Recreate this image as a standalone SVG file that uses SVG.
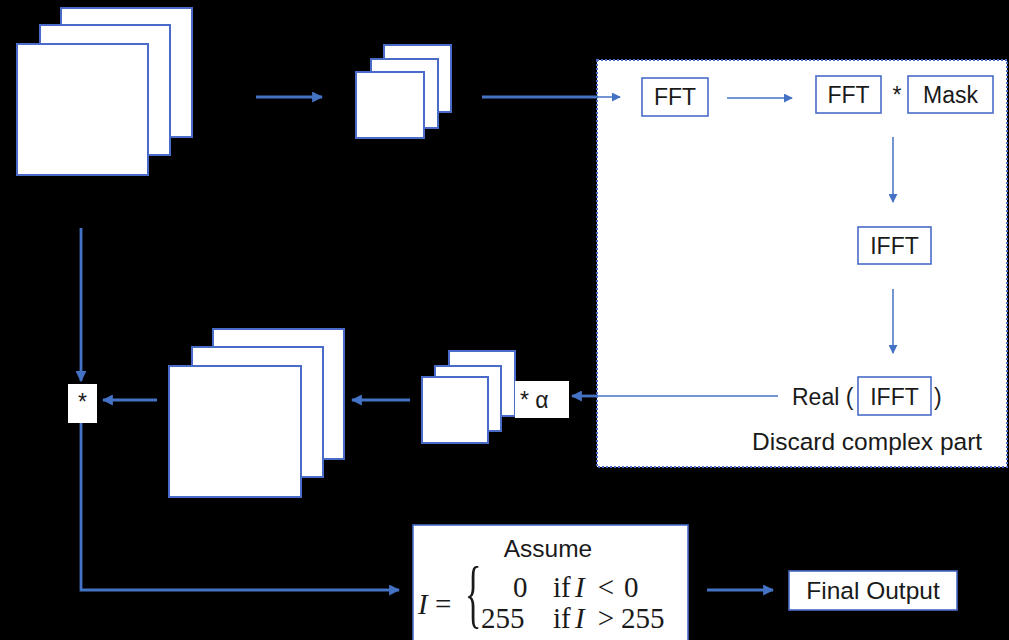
<svg xmlns="http://www.w3.org/2000/svg" width="1009" height="640" viewBox="0 0 1009 640">
  <style>
    .sheet { fill: #ffffff; stroke: #4a6cc8; stroke-width: 2; }
    .box { fill: #ffffff; stroke: #4a6cc8; stroke-width: 1.6; }
    .plain { fill: #ffffff; stroke: none; }
    .lbl { font-family: "Liberation Sans", Arial, sans-serif; font-size: 23px; fill: #1a1a1a; }
    .wide { font-size: 24.5px; }
    .math { font-family: "Liberation Serif", "Times New Roman", serif; font-size: 29px; fill: #1a1a1a; }
    .brace { font-size: 76px; }
    .thick { fill: none; stroke: #4472c4; stroke-width: 2.8; }
    .thin { fill: none; stroke: #4472c4; stroke-width: 1.5; }
  </style>
  <defs>
    <marker id="ah" viewBox="0 0 10 10" refX="9" refY="5" markerWidth="11" markerHeight="11" markerUnits="userSpaceOnUse" orient="auto">
      <path d="M0,0 L10,5 L0,10 z" fill="#4472c4"/>
    </marker>
    <marker id="ahs" viewBox="0 0 10 10" refX="9" refY="5" markerWidth="9" markerHeight="9" markerUnits="userSpaceOnUse" orient="auto">
      <path d="M0,0 L10,5 L0,10 z" fill="#4472c4"/>
    </marker>
  </defs>

  <rect x="0" y="0" width="1009" height="640" fill="#000000"/>

  <!-- frequency-domain panel -->
  <g id="panel">
    <rect x="597" y="60" width="410" height="407" fill="#ffffff" stroke="#4a6cc8" stroke-width="2" stroke-dasharray="2,2"/>
  </g>

  <!-- input image stack -->
  <g id="input-stack">
    <rect class="sheet" x="61" y="8" width="131" height="129"/>
    <rect class="sheet" x="40" y="25" width="130" height="130"/>
    <rect class="sheet" x="17" y="44" width="131" height="131"/>
  </g>

  <!-- downsampled stack -->
  <g id="small-stack">
    <rect class="sheet" x="384" y="45" width="67" height="67"/>
    <rect class="sheet" x="371" y="59" width="67" height="69"/>
    <rect class="sheet" x="356" y="72" width="68" height="66"/>
  </g>

  <g id="fft">
    <rect class="box" x="642" y="78" width="66" height="38"/>
    <text class="lbl" x="675" y="105" text-anchor="middle">FFT</text>
  </g>

  <g id="fft-mask">
    <rect class="box" x="816" y="76" width="65" height="37"/>
    <text class="lbl" x="848.5" y="103" text-anchor="middle">FFT</text>
    <text class="lbl" x="897" y="103" text-anchor="middle">*</text>
    <rect class="box" x="908" y="76" width="85" height="37"/>
    <text class="lbl" x="950.5" y="103" text-anchor="middle">Mask</text>
  </g>

  <g id="ifft">
    <rect class="box" x="858" y="227" width="73" height="37"/>
    <text class="lbl" x="894.5" y="254" text-anchor="middle">IFFT</text>
  </g>

  <g id="real-ifft">
    <text class="lbl" x="792" y="405">Real (</text>
    <rect class="box" x="858" y="377" width="73" height="38"/>
    <text class="lbl" x="894.5" y="405" text-anchor="middle">IFFT</text>
    <text class="lbl" x="934" y="405">)</text>
    <text class="lbl wide" x="752" y="450">Discard complex part</text>
  </g>

  <!-- scaled result stack -->
  <g id="alpha-stack">
    <rect class="sheet" x="449" y="351" width="66" height="65"/>
    <rect class="sheet" x="435" y="366" width="66" height="65"/>
    <rect class="sheet" x="422" y="377" width="66" height="66"/>
    <rect class="plain" x="515" y="381" width="54" height="37"/>
    <text class="lbl" x="520" y="408">* α</text>
  </g>

  <!-- upsampled stack -->
  <g id="large-stack">
    <rect class="sheet" x="213" y="329" width="131" height="130"/>
    <rect class="sheet" x="192" y="347" width="131" height="130"/>
    <rect class="sheet" x="169" y="366" width="132" height="131"/>
  </g>

  <g id="multiply">
    <rect class="plain" x="68" y="384" width="29" height="39"/>
    <text class="lbl" x="82.5" y="410" text-anchor="middle">*</text>
  </g>

  <g id="clip">
    <rect class="box" x="413" y="525" width="275" height="120"/>
    <text class="lbl wide" x="548" y="557" text-anchor="middle">Assume</text>
    <text class="math" x="418" y="614" font-style="italic">I</text>
    <text class="math" x="435" y="614">=</text>
    <text class="math brace" x="0" y="0" transform="translate(465,619) scale(0.45,1)">{</text>
    <text class="math" x="513" y="597">0</text>
    <text class="math" x="553" y="597">if</text>
    <text class="math" x="575" y="597" font-style="italic">I</text>
    <text class="math" x="606" y="597" text-anchor="middle">&lt;</text>
    <text class="math" x="624" y="597">0</text>
    <text class="math" x="481" y="628">255</text>
    <text class="math" x="553" y="628">if</text>
    <text class="math" x="575" y="628" font-style="italic">I</text>
    <text class="math" x="606" y="628" text-anchor="middle">&gt;</text>
    <text class="math" x="621" y="628">255</text>
  </g>

  <g id="final-output">
    <rect class="box" x="789" y="571" width="168" height="39"/>
    <text class="lbl wide" x="873" y="599" text-anchor="middle">Final Output</text>
  </g>

  <g id="connectors">
    <line class="thick" x1="256" y1="97" x2="322" y2="97" marker-end="url(#ah)"/>
    <line class="thick" x1="482" y1="97" x2="598" y2="97"/>
    <line class="thin" x1="597" y1="97" x2="620" y2="97" marker-end="url(#ahs)"/>
    <line class="thin" x1="727" y1="98" x2="792" y2="98" marker-end="url(#ahs)"/>
    <line class="thin" x1="893" y1="137" x2="893" y2="202" marker-end="url(#ahs)"/>
    <line class="thin" x1="893" y1="289" x2="893" y2="353" marker-end="url(#ahs)"/>
    <line class="thin" x1="778" y1="396" x2="597" y2="396"/>
    <line class="thick" x1="598" y1="396" x2="572" y2="396" marker-end="url(#ah)"/>
    <line class="thick" x1="410" y1="400" x2="352" y2="400" marker-end="url(#ah)"/>
    <line class="thick" x1="157" y1="400" x2="103" y2="400" marker-end="url(#ah)"/>
    <line class="thick" x1="81" y1="228" x2="81" y2="381" marker-end="url(#ah)"/>
    <polyline class="thick" points="81,423 81,590 399,590" marker-end="url(#ah)"/>
    <line class="thick" x1="707" y1="590" x2="773" y2="590" marker-end="url(#ah)"/>
  </g>
</svg>
